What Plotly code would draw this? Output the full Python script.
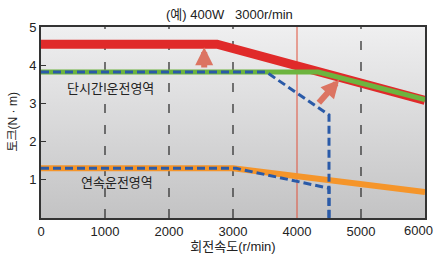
import plotly.graph_objects as go

# --- data ---
peak_x = [0, 2750, 6000]
peak_y = [4.55, 4.55, 3.08]
rated_peak_x = [0, 4330, 6000]
rated_peak_y = [3.82, 3.82, 3.1]
blue_peak_x = [0, 3520, 4500, 4500]
blue_peak_y = [3.82, 3.82, 2.7, 0]
cont_x = [0, 3000, 6000]
cont_y = [1.3, 1.3, 0.68]
blue_cont_x = [0, 3050, 4500, 4500]
blue_cont_y = [1.3, 1.3, 0.78, 0]
grid_x = [1000, 2000, 3000, 5000]
rated_speed = 4000
x_ticks = [0, 1000, 2000, 3000, 4000, 5000, 6000]
x_tick_labels = ["0", "1000", "2000", "3000", "4000", "5000", "6000"]
y_ticks = [1, 2, 3, 4, 5]
arrow1 = dict(x0=2550, y0=3.9, x1=2550, y1=4.47)
arrow2 = dict(x0=4320, y0=2.98, x1=4660, y1=3.62)

FONT = "Liberation Sans, Noto Sans CJK KR, sans-serif"

fig = go.Figure()

# gradient background
fig.add_trace(go.Scatter(x=[0, 6000, 6000, 0, 0], y=[0, 0, 5, 5, 0], mode="lines",
                         line=dict(width=0), fill="toself",
                         fillgradient=dict(type="vertical",
                                           colorscale=[[0, "#c3c3c4"], [1, "#efeff0"]]),
                         hoverinfo="skip", showlegend=False))

# dashed vertical grid lines
for gx in grid_x:
    fig.add_trace(go.Scatter(x=[gx, gx], y=[0, 5], mode="lines",
                             line=dict(color="#333333", width=1.3, dash="9px,12px"),
                             hoverinfo="skip", showlegend=False))

# rated speed line
fig.add_trace(go.Scatter(x=[rated_speed, rated_speed], y=[0, 5], mode="lines",
                         line=dict(color="#e0503a", width=1),
                         hoverinfo="skip", showlegend=False))

# peak torque (red)
fig.add_trace(go.Scatter(x=peak_x, y=peak_y, mode="lines",
                         line=dict(color="#e02a2a", width=9),
                         hoverinfo="skip", showlegend=False))
# green
fig.add_trace(go.Scatter(x=rated_peak_x, y=rated_peak_y, mode="lines",
                         line=dict(color="#6db43f", width=5),
                         hoverinfo="skip", showlegend=False))
# orange continuous
fig.add_trace(go.Scatter(x=cont_x, y=cont_y, mode="lines",
                         line=dict(color="#f5952a", width=6),
                         hoverinfo="skip", showlegend=False))
# blue dashed
for bx, by in [(blue_peak_x, blue_peak_y), (blue_cont_x, blue_cont_y)]:
    fig.add_trace(go.Scatter(x=bx, y=by, mode="lines",
                             line=dict(color="#2a5aa8", width=3, dash="8px,4px"),
                             hoverinfo="skip", showlegend=False))

# arrows
for a in [arrow1, arrow2]:
    fig.add_annotation(x=a["x1"], y=a["y1"], ax=a["x0"], ay=a["y0"],
                       xref="x", yref="y", axref="x", ayref="y",
                       text="", showarrow=True, arrowhead=2, arrowsize=0.6,
                       arrowwidth=6, arrowcolor="#dc7462")

# region labels
fig.add_annotation(x=1080, y=3.4, xref="x", yref="y", text="단시간 운전영역",
                   showarrow=False, font=dict(size=13, color="#222", family=FONT))
fig.add_annotation(x=1190, y=0.94, xref="x", yref="y", text="연속운전영역",
                   showarrow=False, font=dict(size=13, color="#222", family=FONT))

# title
fig.add_annotation(x=0.49, y=1.0, xref="paper", yref="paper", text="(예) 400W   3000r/min",
                   yanchor="bottom", yshift=3,
                   showarrow=False, font=dict(size=13, color="#222", family=FONT))

# y axis title
fig.add_annotation(x=0, y=0.5, xref="paper", yref="paper", text="토크(N · m)",
                   textangle=-90, xanchor="center", yanchor="middle", xshift=-29,
                   showarrow=False, font=dict(size=12, color="#222", family=FONT))

# last x tick label, pulled inside the page edge
fig.add_annotation(x=x_ticks[-1], y=0, xref="x", yref="paper", text=x_tick_labels[-1],
                   xanchor="right", yanchor="top", xshift=10, yshift=-3,
                   showarrow=False, font=dict(size=13, color="#222", family=FONT))

fig.update_layout(
    width=437, height=259,
    margin=dict(l=41, r=12, t=27, b=41),
    paper_bgcolor="white", plot_bgcolor="white",
    font=dict(family=FONT, size=13, color="#222"),
    showlegend=False,
)

fig.update_xaxes(range=[0, 6000], tickvals=x_ticks,
                 ticktext=x_tick_labels[:-1] + [""],
                 showgrid=False, zeroline=False,
                 automargin=False, ticklabeloverflow="allow",
                 showline=True, linecolor="#333", linewidth=2, mirror=True,
                 ticks="", tickfont=dict(size=13, color="#222"),
                 title=dict(text="회전속도(r/min)", font=dict(size=13, color="#222"), standoff=4))
fig.update_yaxes(range=[0, 5], tickvals=y_ticks, showgrid=False, zeroline=False,
                 automargin=False, ticklabeloverflow="allow",
                 showline=True, linecolor="#333", linewidth=2, mirror=True,
                 ticks="inside", ticklen=5, tickcolor="#333",
                 tickfont=dict(size=13, color="#222"))

fig.write_html("out.html", config={"displayModeBar": False},
               post_script="document.body.style.margin='0';document.body.style.padding='0';")
